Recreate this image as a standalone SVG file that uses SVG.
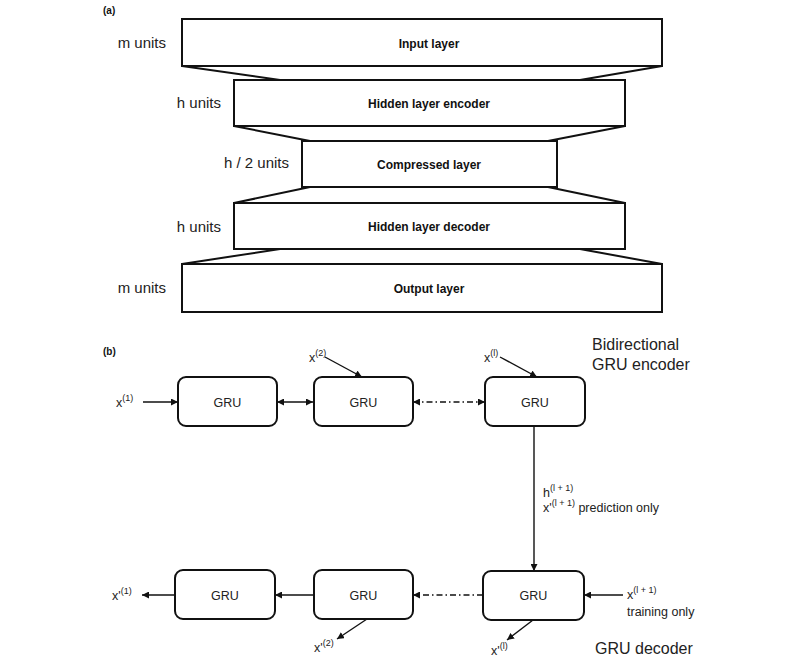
<svg xmlns="http://www.w3.org/2000/svg" width="800" height="667" viewBox="0 0 800 667">
<defs>
<marker id="ah" viewBox="0 0 10 10" refX="10" refY="5" markerWidth="7" markerHeight="7" markerUnits="userSpaceOnUse" orient="auto-start-reverse">
<path d="M0,0 L10,5 L0,10 z" fill="#111"/>
</marker>
<style>
.layer{fill:#fff;stroke:#111;stroke-width:2}
.trap{stroke:#111;stroke-width:2;fill:none}
.lt{font-family:"Liberation Sans",Arial,sans-serif;font-size:12px;font-weight:bold;fill:#111;text-anchor:middle}
.ut{font-family:"Liberation Sans",Arial,sans-serif;font-size:15px;fill:#222;text-anchor:end}
.gru{fill:#fff;stroke:#111;stroke-width:2}
.gt{font-family:"Liberation Sans",Arial,sans-serif;font-size:12.5px;fill:#222;text-anchor:middle}
.t{font-family:"Liberation Sans",Arial,sans-serif;font-size:12.5px;fill:#222}
.big{font-family:"Liberation Sans",Arial,sans-serif;font-size:16px;fill:#222}
.pl{font-family:"Liberation Sans",Arial,sans-serif;font-size:10px;font-weight:bold;fill:#111}
.c{stroke:#111;stroke-width:1.4;fill:none}
.dd{stroke-dasharray:6 3 1.5 3}
</style>
</defs>

<text class="pl" x="103" y="14">(a)</text>

<g id="connectors-a">
<line class="trap" x1="182" y1="66" x2="280" y2="80"/>
<line class="trap" x1="662" y1="66" x2="580" y2="80"/>
<line class="trap" x1="234" y1="126" x2="310" y2="141"/>
<line class="trap" x1="625" y1="126" x2="548" y2="141"/>
<line class="trap" x1="310" y1="187" x2="234" y2="203"/>
<line class="trap" x1="548" y1="187" x2="625" y2="203"/>
<line class="trap" x1="280" y1="249" x2="182" y2="264"/>
<line class="trap" x1="580" y1="249" x2="662" y2="264"/>
</g>

<g id="input-layer">
<rect class="layer" x="182" y="19" width="480" height="47"/>
<text class="lt" x="429" y="48">Input layer</text>
<text class="ut" x="166" y="48">m units</text>
</g>
<g id="hidden-encoder">
<rect class="layer" x="234" y="80" width="391" height="46"/>
<text class="lt" x="429" y="108">Hidden layer encoder</text>
<text class="ut" x="221" y="108">h units</text>
</g>
<g id="compressed-layer">
<rect class="layer" x="302" y="141" width="255" height="46"/>
<text class="lt" x="429" y="169">Compressed layer</text>
<text class="ut" x="289" y="168">h / 2 units</text>
</g>
<g id="hidden-decoder">
<rect class="layer" x="234" y="203" width="391" height="46"/>
<text class="lt" x="429" y="231">Hidden layer decoder</text>
<text class="ut" x="221" y="232">h units</text>
</g>
<g id="output-layer">
<rect class="layer" x="182" y="264" width="480" height="48"/>
<text class="lt" x="429" y="293">Output layer</text>
<text class="ut" x="166" y="293">m units</text>
</g>

<text class="pl" x="103" y="355">(b)</text>
<text class="big" x="592" y="350">Bidirectional</text>
<text class="big" x="592" y="370">GRU encoder</text>
<text class="big" x="595" y="654">GRU decoder</text>

<g id="connectors-b">
<line class="c" x1="143" y1="402" x2="178" y2="402" marker-end="url(#ah)"/>
<line class="c" x1="277" y1="402" x2="313" y2="402" marker-start="url(#ah)" marker-end="url(#ah)"/>
<line class="c dd" x1="413" y1="402" x2="485" y2="402" marker-start="url(#ah)" marker-end="url(#ah)"/>
<line class="c" x1="325" y1="357" x2="362" y2="377" marker-end="url(#ah)"/>
<line class="c" x1="500" y1="357" x2="537" y2="377" marker-end="url(#ah)"/>
<line class="c" x1="534" y1="427" x2="534" y2="571" marker-end="url(#ah)"/>
<line class="c" x1="623" y1="595" x2="584" y2="595" marker-end="url(#ah)"/>
<line class="c dd" x1="483" y1="595" x2="413" y2="595" marker-end="url(#ah)"/>
<line class="c" x1="314" y1="595" x2="275" y2="595" marker-end="url(#ah)"/>
<line class="c" x1="175" y1="595" x2="142" y2="595" marker-end="url(#ah)"/>
<line class="c" x1="533" y1="620" x2="507" y2="640" marker-end="url(#ah)"/>
<line class="c" x1="367" y1="619" x2="337" y2="639" marker-end="url(#ah)"/>
</g>

<g id="enc-gru1">
<rect class="gru" x="178" y="377" width="99" height="49" rx="8"/>
<text class="gt" x="227.5" y="406.5">GRU</text>
</g>
<g id="enc-gru2">
<rect class="gru" x="314" y="377" width="99" height="49" rx="8"/>
<text class="gt" x="363.5" y="406.5">GRU</text>
</g>
<g id="enc-gru3">
<rect class="gru" x="485" y="377" width="100" height="49" rx="8"/>
<text class="gt" x="535" y="406.5">GRU</text>
</g>
<g id="dec-gru1">
<rect class="gru" x="175" y="570" width="100" height="49" rx="8"/>
<text class="gt" x="225" y="599.5">GRU</text>
</g>
<g id="dec-gru2">
<rect class="gru" x="314" y="570" width="99" height="49" rx="8"/>
<text class="gt" x="363.5" y="599.5">GRU</text>
</g>
<g id="dec-gru3">
<rect class="gru" x="483" y="571" width="101" height="49" rx="8"/>
<text class="gt" x="533.5" y="600">GRU</text>
</g>

<g id="labels">
<text class="t" x="116" y="407">x<tspan dy="-6" font-size="9">(1)</tspan></text>
<text class="t" x="309" y="362">x<tspan dy="-6" font-size="9">(2)</tspan></text>
<text class="t" x="484" y="362">x<tspan dy="-6" font-size="9">(l)</tspan></text>
<text class="t" x="543" y="497">h<tspan dy="-6" font-size="9">(l + 1)</tspan></text>
<text class="t" x="543" y="512">x'<tspan dy="-6" font-size="9">(l + 1)</tspan><tspan dy="6"> prediction only</tspan></text>
<text class="t" x="627" y="599">x<tspan dy="-6" font-size="9">(l + 1)</tspan></text>
<text class="t" x="627" y="616">training only</text>
<text class="t" x="112" y="600">x'<tspan dy="-6" font-size="9">(1)</tspan></text>
<text class="t" x="314" y="652">x'<tspan dy="-6" font-size="9">(2)</tspan></text>
<text class="t" x="491" y="655">x'<tspan dy="-6" font-size="9">(l)</tspan></text>
</g>
</svg>
